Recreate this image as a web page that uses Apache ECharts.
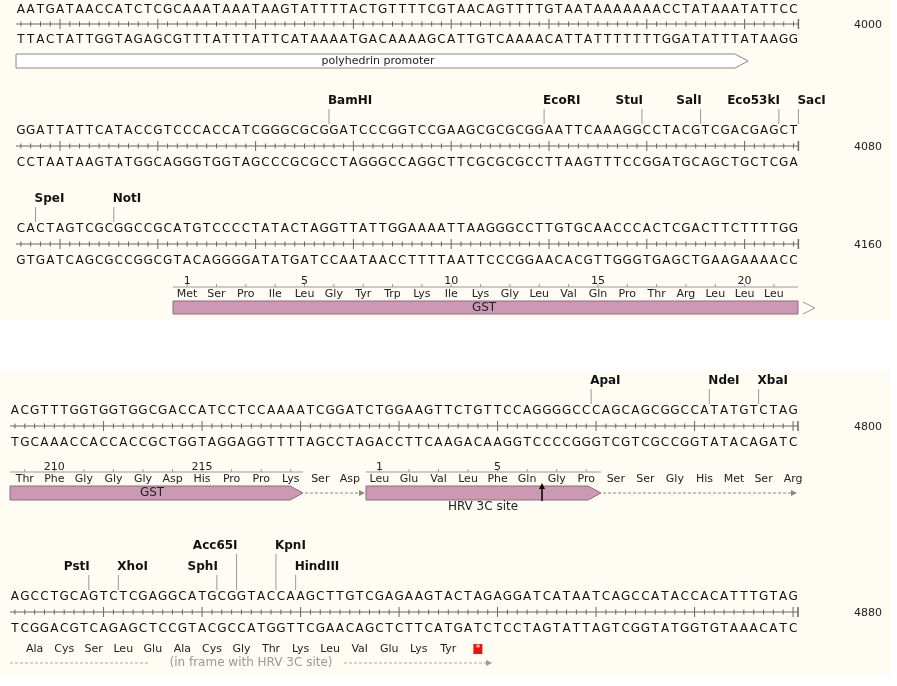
<!DOCTYPE html>
<html><head><meta charset="utf-8">
<script src="https://cdn.jsdelivr.net/npm/echarts@6/dist/echarts.min.js"></script>
<style>html,body{margin:0;padding:0;background:#fff}#c{width:897px;height:686px}</style>
</head><body><div id="c"></div>
<script>
// ---- data ----
const seqRows = [
  "AATGATAACCATCTCGCAAATAAATAAGTATTTTACTGTTTTCGTAACAGTTTTGTAATAAAAAAACCTATAAATATTCC",
  "GGATTATTCATACCGTCCCACCATCGGGCGCGGATCCCGGTCCGAAGCGCGCGGAATTCAAAGGCCTACGTCGACGAGCT",
  "CACTAGTCGCGGCCGCATGTCCCCTATACTAGGTTATTGGAAAATTAAGGGCCTTGTGCAACCCACTCGACTTCTTTTGG",
  "ACGTTTGGTGGTGGCGACCATCCTCCAAAATCGGATCTGGAAGTTCTGTTCCAGGGGCCCAGCAGCGGCCATATGTCTAG",
  "AGCCTGCAGTCTCGAGGCATGCGGTACCAAGCTTGTCGAGAAGTACTAGAGGATCATAATCAGCCATACCACATTTGTAG"
];
const rowNumbers = ["4000","4080","4160","4800","4880"];
const enzymeNames = [["BamHI","EcoRI","StuI","SalI","Eco53kI","SacI"],["SpeI","NotI"],["ApaI","NdeI","XbaI"],["PstI","XhoI","SphI","Acc65I","KpnI","HindIII"]];
const enzymeSites = [[32,54,64,70,78,80],[2,10],[59,71,76],[8,11,21,23,27,29]];
const gstAA1 = ["Met","Ser","Pro","Ile","Leu","Gly","Tyr","Trp","Lys","Ile","Lys","Gly","Leu","Val","Gln","Pro","Thr","Arg","Leu","Leu","Leu"];
const gstAA1Num = ["1","","","","5","","","","","10","","","","","15","","","","","20",""];
const row4AA = ["Thr","Phe","Gly","Gly","Gly","Asp","His","Pro","Pro","Lys","Ser","Asp","Leu","Glu","Val","Leu","Phe","Gln","Gly","Pro","Ser","Ser","Gly","His","Met","Ser","Arg"];
const row4Num = ["","210","","","","","215","","","","","","1","","","","5","","","","","","","","","",""];
const row5AA = ["Ala","Cys","Ser","Leu","Glu","Ala","Cys","Gly","Thr","Lys","Leu","Val","Glu","Lys","Tyr"];
const featureNames = ["polyhedrin promoter","GST","HRV 3C site","(in frame with HRV 3C site)"];

// ---- layout ----
const rows = [
  {x0:16,step:9.78,top:10,rul:24,bot:40,maj:4},
  {x0:16,step:9.78,top:131,rul:146,bot:163,maj:4},
  {x0:16,step:9.78,top:229,rul:244,bot:261,maj:4},
  {x0:10,step:9.85,top:411,rul:426,bot:443,maj:9},
  {x0:10,step:9.85,top:597,rul:612,bot:629,maj:9}
];
const enzRow=[1,2,3,4];
const enzLeft={BamHI:1,EcoRI:1,SacI:1,SpeI:1,NotI:1,ApaI:1,NdeI:1,XbaI:1,XhoI:1,KpnI:1,HindIII:1};
const enzHigh={Acc65I:1,KpnI:1};
const comp={A:'T',T:'A',G:'C',C:'G'};
const FONT='"DejaVu Sans", Verdana, sans-serif';

function render(params, api){
  const P=(x,y)=>api.coord([x,y]);
  const ch=[];
  const txt=(s,x,y,o)=>{o=o||{};const p=P(x,y);ch.push({type:'text',style:{text:s,x:p[0],y:p[1],fill:o.fill||'#111',font:(o.bold?'bold ':'')+(o.size||12)+'px '+(o.ff||FONT),align:o.align||'center',verticalAlign:'middle'}});};
  const line=(x1,y1,x2,y2,c,w,dash)=>{const a=P(x1,y1),b=P(x2,y2);ch.push({type:'line',shape:{x1:a[0],y1:a[1],x2:b[0],y2:b[1]},style:{stroke:c||'#666',lineWidth:w||1,lineDash:dash||null}});};
  const poly=(pts,fill,stroke,closed)=>{ch.push({type:closed===false?'polyline':'polygon',shape:{points:pts.map(q=>P(q[0],q[1]))},style:{fill:fill||null,stroke:stroke||null,lineWidth:1}});};
  poly([[0,0],[891,0],[891,320],[0,320]],'#fffcf4');
  poly([[0,370],[891,370],[891,677],[0,677]],'#fffcf4');
  rows.forEach((r,ri)=>{
    const s=seqRows[ri];
    for(let i=0;i<s.length;i++){
      const cx=r.x0+(i+0.5)*r.step;
      txt(s[i],cx,r.top);
      txt(comp[s[i]],cx,r.bot);
      const big=(i%10===r.maj);
      line(cx,r.rul-(big?5:2.5),cx,r.rul+(big?5:2.5),'#666',1);
    }
    const xe=r.x0+s.length*r.step;
    line(r.x0,r.rul,xe,r.rul,'#666',1);
    line(xe,r.rul-5,xe,r.rul+5,'#666',1.5);
    txt(rowNumbers[ri],882,r.rul+1,{size:11,align:'right',fill:'#222'});
  });
  enzymeNames.forEach((names,gi)=>{
    const r=rows[enzRow[gi]];
    names.forEach((n,k)=>{
      const x=r.x0+enzymeSites[gi][k]*r.step;
      const ly=r.top-(enzHigh[n]?51:30);
      line(x,ly+8,x,r.top-7,'#999',1);
      txt(n,x+(enzLeft[n]?-1:1),ly,{bold:true,align:enzLeft[n]?'left':'right',size:12});
    });
  });
  poly([[16,54],[735,54],[748,61],[735,68],[16,68]],'#ffffff','#888');
  txt(featureNames[0],378,61,{size:11,fill:'#222'});
  const r3=rows[2];
  line(173,287,798,287,'#999',1);
  gstAA1.forEach((a,k)=>{
    const cx=r3.x0+(16+3*k+1.5)*r3.step;
    line(cx,284,cx,287,'#999',1);
    txt(a,cx,294,{size:11,fill:'#222'});
    if(gstAA1Num[k])txt(gstAA1Num[k],cx,281,{size:11,fill:'#222'});
  });
  poly([[173,301],[798,301],[798,314],[173,314]],'#cc99b3','#8f6a80');
  txt(featureNames[1],484,307.5,{size:12,fill:'#222'});
  poly([[803,302],[815,308],[803,314]],null,'#999',false);
  const r4=rows[3];
  line(10,472,303,472,'#999',1); line(366,472,601,472,'#999',1);
  row4AA.forEach((a,k)=>{
    const cx=r4.x0+(3*k+1.5)*r4.step;
    if(k<10||(k>=12&&k<20))line(cx,469,cx,472,'#999',1);
    txt(a,cx,479,{size:11,fill:'#222'});
    if(row4Num[k])txt(row4Num[k],cx,467,{size:11,fill:'#222'});
  });
  poly([[10,486],[290,486],[303,493],[290,500],[10,500]],'#cc99b3','#8f6a80');
  txt(featureNames[1],152,493,{size:12,fill:'#222'});
  line(305,493,359,493,'#888',1,[3,2]); poly([[359,490],[365,493],[359,496]],'#888');
  poly([[366,486],[588,486],[601,493],[588,500],[366,500]],'#cc99b3','#8f6a80');
  txt(featureNames[2],483,507,{size:12,fill:'#222'});
  line(603,493,791,493,'#888',1,[3,2]); poly([[791,490],[797,493],[791,496]],'#888');
  line(542,488,542,501,'#000',1.5); poly([[539,489],[542,483],[545,489]],'#000');
  const r5=rows[4];
  row5AA.forEach((a,k)=>{
    const cx=r5.x0+(1+3*k+1.5)*r5.step;
    txt(a,cx,649,{size:11,fill:'#222'});
  });
  const sx=r5.x0+(1+45+1.5)*r5.step;
  poly([[sx-4.5,644],[sx+4.5,644],[sx+4.5,654],[sx-4.5,654]],'#ee1111');
  txt('*',sx,649,{size:9,fill:'#fff'});
  line(10,663,148,663,'#aaa',1,[3,2]);
  txt(featureNames[3],251,663,{size:12,fill:'#999'});
  line(344,663,486,663,'#aaa',1,[3,2]); poly([[486,660],[492,663],[486,666]],'#999');
  return {type:'group',children:ch};
}

const chart=echarts.init(document.getElementById('c'),null,{renderer:'canvas'});
chart.setOption({
  animation:false,
  grid:{left:0,right:0,top:0,bottom:0},
  xAxis:{type:'value',min:0,max:897,show:false},
  yAxis:{type:'value',min:0,max:686,inverse:true,show:false},
  series:[{type:'custom',renderItem:render,data:[[0,0]],clip:false,silent:true}]
});
</script></body></html>
